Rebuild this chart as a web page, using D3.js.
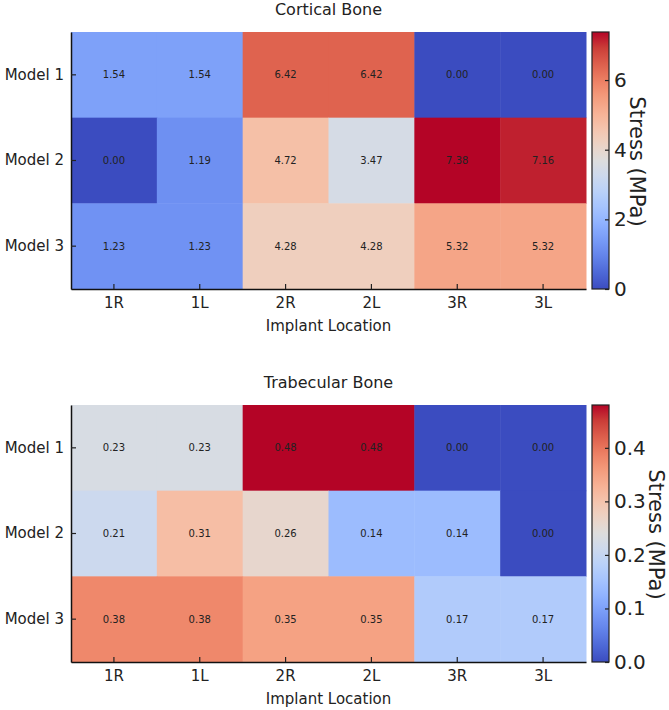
<!DOCTYPE html>
<html>
<head>
<meta charset="utf-8">
<title>Stress heatmaps</title>
<script src="https://d3js.org/d3.v7.min.js"></script>
<style>
body { margin: 0; background: #fff; }
svg text { font-family: "DejaVu Sans", sans-serif; fill: #222; }
</style>
</head>
<body>
<script>
var locations = ["1R", "1L", "2R", "2L", "3R", "3L"];
var models = ["Model 1", "Model 2", "Model 3"];

var corticalStress = [
	[1.54, 1.54, 6.42, 6.42, 0.00, 0.00],
	[0.00, 1.19, 4.72, 3.47, 7.38, 7.16],
	[1.23, 1.23, 4.28, 4.28, 5.32, 5.32]
];
var trabecularStress = [
	[0.23, 0.23, 0.48, 0.48, 0.00, 0.00],
	[0.21, 0.31, 0.26, 0.14, 0.14, 0.00],
	[0.38, 0.38, 0.35, 0.35, 0.17, 0.17]
];
var corticalTicks = [0, 2, 4, 6];
var trabecularTicks = [0, 0.1, 0.2, 0.3, 0.4];

// matplotlib "coolwarm", sampled every 1/16
var coolwarm = ["#3b4cc0", "#4d68d7", "#6282ea", "#779af7", "#8db0fe", "#a3c2fe",
	"#b8d0f9", "#ccd9ee", "#dddddd", "#ecd3c5", "#f5c4ad", "#f7b194",
	"#f49a7b", "#ec7f63", "#de604d", "#cb3e38", "#b40426"];

var width = 669, height = 710;
var plotLeft = 71, plotWidth = 515, plotHeight = 257;
var barX = 592, barWidth = 17;

var svg = d3.select("body").append("svg")
	.attr("width", width)
	.attr("height", height);

var defs = svg.append("defs");

var x = d3.scaleBand().domain(locations).range([plotLeft, plotLeft + plotWidth]);

function drawPanel(title, values, ticks, fmt, top, id) {
	var y = d3.scaleBand().domain(models).range([top, top + plotHeight]);

	var vmax = d3.max(values, function(row) { return d3.max(row); });
	var color = d3.scaleLinear()
		.domain(coolwarm.map(function(c, i) { return vmax * i / (coolwarm.length - 1); }))
		.range(coolwarm)
		.clamp(true);

	var cells = [];
	models.forEach(function(m, i) {
		locations.forEach(function(l, j) {
			cells.push({ model: m, loc: l, value: values[i][j] });
		});
	});

	var g = svg.append("g");

	g.selectAll("rect.cell")
		.data(cells)
		.enter().append("rect")
		.attr("class", "cell")
		.attr("x", function(d) { return x(d.loc); })
		.attr("y", function(d) { return y(d.model); })
		.attr("width", x.bandwidth() + 0.5)
		.attr("height", y.bandwidth() + 0.5)
		.attr("fill", function(d) { return color(d.value); });

	g.selectAll("text.val")
		.data(cells)
		.enter().append("text")
		.attr("class", "val")
		.attr("x", function(d) { return x(d.loc) + x.bandwidth() / 2; })
		.attr("y", function(d) { return y(d.model) + y.bandwidth() / 2; })
		.attr("dy", "0.35em")
		.attr("text-anchor", "middle")
		.attr("font-size", 10)
		.text(function(d) { return d.value.toFixed(2); });

	// axes: only left and bottom spines, ticks pointing in
	var left = g.append("g")
		.attr("transform", "translate(" + plotLeft + ",0)")
		.call(d3.axisLeft(y).tickSize(-5).tickSizeOuter(0).tickPadding(7));
	var bottom = g.append("g")
		.attr("transform", "translate(0," + (top + plotHeight) + ")")
		.call(d3.axisBottom(x).tickSize(-5).tickSizeOuter(0).tickPadding(8));

	[left, bottom].forEach(function(a) {
		a.attr("font-family", null).attr("font-size", 15);
		a.select(".domain").attr("stroke", "#111").attr("stroke-width", 1.5);
		a.selectAll(".tick line").attr("stroke", "#222").attr("stroke-width", 1.2);
		a.selectAll(".tick text").attr("fill", "#222");
	});

	g.append("text")
		.attr("x", plotLeft + plotWidth / 2)
		.attr("y", top - 17)
		.attr("text-anchor", "middle")
		.attr("font-size", 16)
		.attr("fill", "#333")
		.text(title);

	g.append("text")
		.attr("x", plotLeft + plotWidth / 2)
		.attr("y", top + plotHeight + 42)
		.attr("text-anchor", "middle")
		.attr("font-size", 15)
		.text("Implant Location");

	// colorbar
	var grad = defs.append("linearGradient")
		.attr("id", id)
		.attr("x1", 0).attr("y1", 1).attr("x2", 0).attr("y2", 0);
	grad.selectAll("stop")
		.data(d3.range(0, 1.0001, 0.02))
		.enter().append("stop")
		.attr("offset", function(t) { return t; })
		.attr("stop-color", function(t) { return color(t * vmax); });

	g.append("rect")
		.attr("x", barX)
		.attr("y", top)
		.attr("width", barWidth)
		.attr("height", plotHeight)
		.attr("fill", "url(#" + id + ")")
		.attr("stroke", "#222")
		.attr("stroke-width", 1.2);

	var c = d3.scaleLinear().domain([0, vmax]).range([top + plotHeight, top]);
	var cax = g.append("g")
		.attr("transform", "translate(" + (barX + barWidth) + ",0)")
		.call(d3.axisRight(c).tickValues(ticks).tickFormat(fmt)
			.tickSize(-4).tickSizeOuter(0).tickPadding(5));
	cax.attr("font-family", null).attr("font-size", 20);
	cax.select(".domain").remove();
	cax.selectAll(".tick line").attr("stroke", "#222").attr("stroke-width", 1.2);
	cax.selectAll(".tick text").attr("fill", "#222");

	// label sits just right of the widest tick label
	var maxW = 0;
	cax.selectAll(".tick text").each(function() {
		maxW = Math.max(maxW, this.getComputedTextLength());
	});
	var labelX = barX + barWidth + 5 + maxW + 3;

	g.append("text")
		.attr("transform", "translate(" + labelX + "," + (top + plotHeight / 2 + 1) + ") rotate(90)")
		.attr("text-anchor", "middle")
		.attr("font-size", 21)
		.text("Stress (MPa)");
}

drawPanel("Cortical Bone", corticalStress, corticalTicks, d3.format("d"), 32, "gradCortical");
drawPanel("Trabecular Bone", trabecularStress, trabecularTicks, d3.format(".1f"), 405, "gradTrabecular");
</script>
</body>
</html>
